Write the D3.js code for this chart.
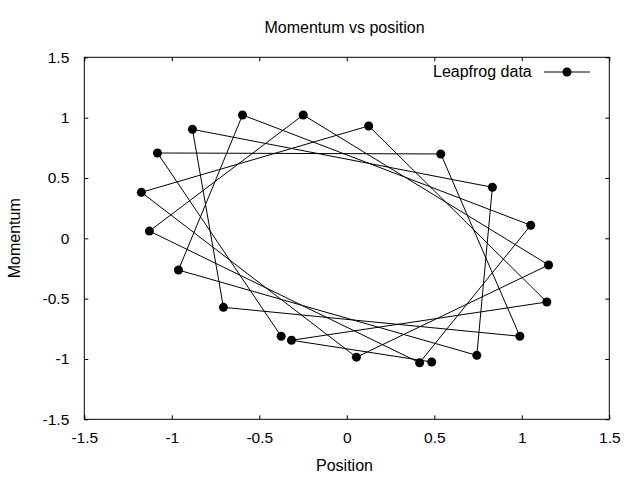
<!DOCTYPE html>
<html>
<head>
<meta charset="utf-8">
<script src="https://cdn.jsdelivr.net/npm/d3@7"></script>
<style>
  body { margin: 0; background: #fff; }
  text { font-family: "Liberation Sans", Arial, sans-serif; fill: #000; }
</style>
</head>
<body>
<div id="chart"></div>
<script>
// Leapfrog data, in the order the points were written out
const positions = [0.485, -0.316, 1.143, 0.125, -1.174, 0.055, 1.153, -0.249, -1.128, 0.416, 1.051,
                   -0.596, -0.962, 0.743, 0.832, -0.882, -0.705, 0.989, 0.537, -1.082, -0.375];
const momenta   = [-1.025, -0.845, -0.528, 0.931, 0.381, -0.985, -0.221, 1.022, 0.060, -1.031, 0.108,
                   1.022, -0.263, -0.970, 0.423, 0.903, -0.572, -0.812, 0.699, 0.707, -0.812];
const xTicks = [-1.5, -1, -0.5, 0, 0.5, 1, 1.5];
const yTicks = [-1.5, -1, -0.5, 0, 0.5, 1, 1.5];

const width = 640, height = 480;
const margin = { top: 57.3, right: 30.7, bottom: 60.7, left: 84.3 };
const w = width - margin.left - margin.right;
const h = height - margin.top - margin.bottom;

const svg = d3.select("#chart").append("svg")
    .attr("width", width)
    .attr("height", height);

svg.append("rect").attr("width", width).attr("height", height).attr("fill", "#fff");

const g = svg.append("g")
    .attr("transform", `translate(${margin.left},${margin.top})`);

const x = d3.scaleLinear().domain([-1.5, 1.5]).range([0, w]);
const y = d3.scaleLinear().domain([-1.5, 1.5]).range([h, 0]);

const fmt = d => String(d);

// axes with inward ticks, mirrored on top and right
function styleAxis(sel) {
    sel.select(".domain").remove();
    sel.selectAll(".tick line").attr("stroke", "#000").attr("stroke-width", 1);
    sel.selectAll("text").style("font-size", "15.5px").attr("fill", "#000");
}

g.append("g")
    .attr("transform", `translate(0,${h})`)
    .call(d3.axisBottom(x).tickValues(xTicks).tickFormat(fmt).tickSizeInner(-4).tickPadding(13))
    .call(styleAxis);

g.append("g")
    .call(d3.axisTop(x).tickValues(xTicks).tickFormat("").tickSizeInner(-4))
    .call(styleAxis);

g.append("g")
    .call(d3.axisLeft(y).tickValues(yTicks).tickFormat(fmt).tickSizeInner(-4).tickPadding(15))
    .call(styleAxis);

g.append("g")
    .attr("transform", `translate(${w},0)`)
    .call(d3.axisRight(y).tickValues(yTicks).tickFormat("").tickSizeInner(-4))
    .call(styleAxis);

g.append("rect")
    .attr("width", w).attr("height", h)
    .attr("fill", "none").attr("stroke", "#000").attr("stroke-width", 1);

// trajectory
const pts = positions.map((p, i) => [p, momenta[i]]);

g.append("path")
    .datum(pts)
    .attr("fill", "none")
    .attr("stroke", "#000")
    .attr("stroke-width", 1)
    .attr("d", d3.line().x(d => x(d[0])).y(d => y(d[1])));

g.selectAll(".pt")
    .data(pts)
    .enter().append("circle")
    .attr("class", "pt")
    .attr("cx", d => x(d[0]))
    .attr("cy", d => y(d[1]))
    .attr("r", 4.5)
    .attr("fill", "#000");

// legend
const legend = svg.append("g").attr("transform", "translate(433,72)");
legend.append("text").attr("x", 0).attr("y", 5).style("font-size", "16px").text("Leapfrog data");
legend.append("line").attr("x1", 111).attr("x2", 157).attr("y1", 0).attr("y2", 0)
    .attr("stroke", "#000").attr("stroke-width", 1);
legend.append("circle").attr("cx", 134).attr("cy", 0).attr("r", 4.5).attr("fill", "#000");

// titles
const midX = 344.5;
svg.append("text")
    .attr("x", midX).attr("y", 33)
    .attr("text-anchor", "middle").style("font-size", "16px")
    .text("Momentum vs position");

svg.append("text")
    .attr("x", midX).attr("y", 471)
    .attr("text-anchor", "middle").style("font-size", "16px")
    .text("Position");

svg.append("text")
    .attr("transform", `translate(20,${margin.top + h / 2}) rotate(-90)`)
    .attr("text-anchor", "middle").style("font-size", "16px")
    .text("Momentum");
</script>
</body>
</html>
